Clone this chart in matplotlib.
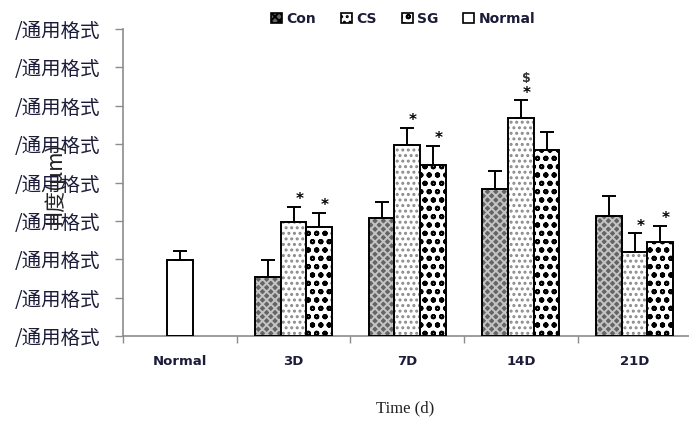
import matplotlib
matplotlib.use("Agg")
import matplotlib.pyplot as plt
import numpy as np
from matplotlib.patches import Patch

plt.rcParams["hatch.linewidth"] = 1.4

groups = ["Normal", "3D", "7D", "14D", "21D"]
series = ["Con", "CS", "SG"]

normal_mean = 1.98
normal_err = 0.23

con_mean = [1.54, 3.08, 3.84, 3.13]
con_err = [0.44, 0.42, 0.47, 0.53]
cs_mean = [2.98, 4.99, 5.67, 2.19]
cs_err = [0.39, 0.44, 0.47, 0.49]
sg_mean = [2.85, 4.46, 4.86, 2.45]
sg_err = [0.36, 0.50, 0.46, 0.42]

# significance marks above each bar (same order as means)
cs_marks = ["*", "*", "*", "*"]
sg_marks = ["*", "*", "", "*"]
cs_extra = ["", "", "$", ""]

ytick_vals = np.arange(0, 9)
ytick_text = ["/通用格式"] * len(ytick_vals)

styles = {
    "Con": dict(fc="#646464", hc="#c4c4c4", hatch="xxxx"),
    "CS": dict(fc="white", hc="#8a8a8a", hatch="..."),
    "SG": dict(fc="white", hc="black", hatch="oo"),
    "Normal": dict(fc="white", hc="black", hatch=None),
}

fig = plt.figure(figsize=(6.89, 4.21), dpi=100)
ax = fig.add_axes([0.1785, 0.2019, 0.8215, 0.7290])

width = 0.226
day_x = np.arange(1, 5)
txt_color = "#1c1c3a"


def draw_bars(x, h, err, name):
    st = styles[name]
    ax.bar(x, h, width, color=st["fc"], edgecolor=st["hc"], hatch=st["hatch"],
           linewidth=0, zorder=2)
    ax.bar(x, h, width, fill=False, edgecolor="black", linewidth=1.4, zorder=3)
    ax.errorbar(x, h, yerr=[np.zeros_like(err), err], fmt="none",
                ecolor="black", elinewidth=1.4, capsize=5, capthick=1.4, zorder=4)


draw_bars(np.array([0]), np.array([normal_mean]), np.array([normal_err]), "Normal")
draw_bars(day_x - width, np.array(con_mean), np.array(con_err), "Con")
draw_bars(day_x, np.array(cs_mean), np.array(cs_err), "CS")
draw_bars(day_x + width, np.array(sg_mean), np.array(sg_err), "SG")

handles = [Patch(facecolor=styles[n]["fc"], edgecolor="black", hatch=styles[n]["hatch"],
                 linewidth=1.2) for n in ["Con", "CS", "SG", "Normal"]]
fig.legend(handles, ["Con", "CS", "SG", "Normal"], loc="center", bbox_to_anchor=(0.585, 0.955),
           ncol=4, frameon=False, handlelength=0.8, handleheight=0.8, handletextpad=0.3,
           columnspacing=1.8, prop={"family": "DejaVu Sans", "weight": "bold", "size": 10},
           labelcolor=txt_color)

for i, x in enumerate(day_x):
    top = cs_mean[i] + cs_err[i]
    if cs_marks[i]:
        ax.text(x + 0.05, top + 0.18, cs_marks[i], ha="center", va="center",
                fontsize=11, fontweight="bold", color="black")
    if cs_extra[i]:
        ax.text(x + 0.05, top + 0.58, cs_extra[i], ha="center", va="center",
                fontsize=9, fontweight="bold", color="#333333", parse_math=False)
    top = sg_mean[i] + sg_err[i]
    if sg_marks[i]:
        ax.text(x + width + 0.05, top + 0.18, sg_marks[i], ha="center", va="center",
                fontsize=11, fontweight="bold", color="black")

ax.set_xlim(-0.5, 4.478)
ax.set_ylim(0, 8)
ax.set_yticks(ytick_vals)
ax.set_yticklabels(ytick_text, family=["Noto Sans CJK SC", "DejaVu Sans"], fontsize=14,
                   color=txt_color)
ax.set_xticks(np.arange(len(groups)))
ax.set_xticklabels(groups, fontsize=9.5, fontweight="bold", color=txt_color)
ax.set_xticks(np.arange(-0.5, 4.5, 1.0), minor=True)
ax.tick_params(axis="x", which="major", length=0, pad=14)
ax.tick_params(axis="x", which="minor", length=5, color="#8c8c8c", width=1)
ax.tick_params(axis="y", length=6, color="#8c8c8c", width=1, pad=10)

for s in ["top", "right"]:
    ax.spines[s].set_visible(False)
for s in ["left", "bottom"]:
    ax.spines[s].set_color("#8c8c8c")
    ax.spines[s].set_linewidth(1.2)

fig.text(0.08, 0.565, "H度(μm)", rotation=90, ha="center", va="center", fontsize=15,
         family=["Noto Sans CJK SC", "DejaVu Sans"], color="#222222")
fig.text(0.588, 0.03, "Time (d)", ha="center", va="center", fontsize=12,
         family="Liberation Serif", color="#222222")

fig.savefig("out.png", dpi=100)
